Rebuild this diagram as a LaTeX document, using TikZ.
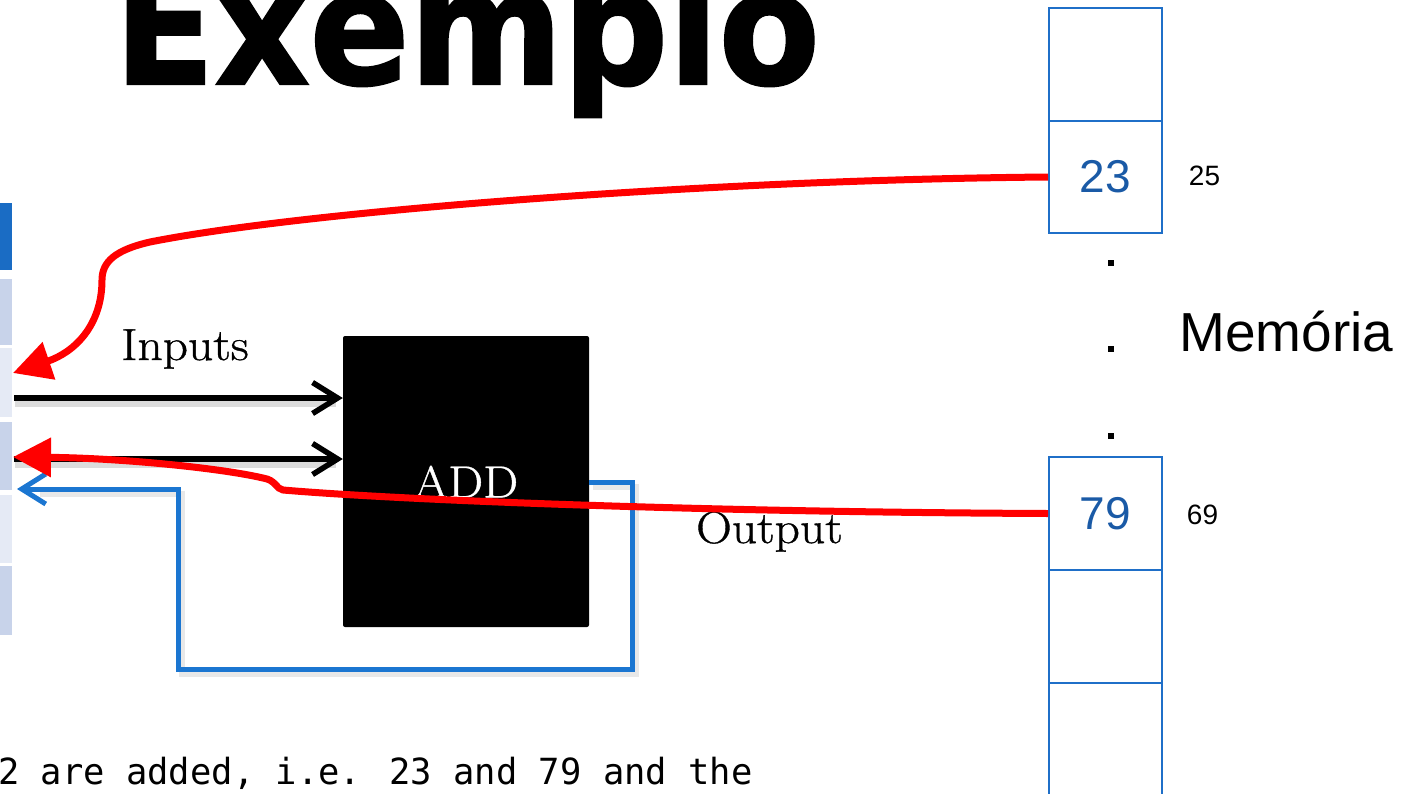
\documentclass[tikz,border=0pt]{standalone}
\usepackage{fontspec}
\usepackage{graphicx}
\newfontfamily\titlefont[FakeBold=1.5]{DejaVu Sans Bold}
\newfontfamily\helv{Liberation Sans}
\newfontfamily\monof{DejaVu Sans Mono}
\newfontfamily\palfont[FakeBold=0.8]{Latin Modern Roman}
\usetikzlibrary{arrows.meta}
\definecolor{regdark}{HTML}{1A6CC4}
\definecolor{regmid}{HTML}{C8D3EA}
\definecolor{reglight}{HTML}{E5EAF5}
\definecolor{memblue}{HTML}{1F6FC8}
\definecolor{numblue}{HTML}{1A5AA6}
\definecolor{fbblue}{HTML}{1B76D1}
\newcommand{\widetxt}[1]{\scalebox{1.1}[1]{#1}}
\tikzset{
  regcell/.style={inner sep=0pt, minimum width=32pt, draw=none},
  memcell/.style={draw=memblue, line width=2pt, minimum width=113pt, minimum height=112.5pt, inner sep=0pt,
                  text=numblue, font=\helv\fontsize{46}{46}\selectfont},
  addrlabel/.style={font=\helv\fontsize{28}{28}\selectfont, text=black, inner sep=0pt},
  dotmark/.style={fill=black, minimum size=6pt, inner sep=0pt},
  serif45/.style={font=\palfont\fontsize{45}{45}\selectfont, inner sep=0pt},
  inarrow/.style={line width=5.5pt, -{Straight Barb[length=25pt,width=31pt]}},
  shadowline/.style={line width=6pt, draw=black!45, opacity=0.3},
  fbline/.style={line width=5pt, draw=fbblue, -{Straight Barb[length=24pt,width=30pt]}},
  redarrow/.style={line width=7pt, draw=red, -{Triangle[length=38pt,width=38pt]}, fill=none},
}
\begin{document}
\begin{tikzpicture}[x=1pt,y=-1pt]
\useasboundingbox (0,0) rectangle (1417,793);
\clip (0,0) rectangle (1417,793);

% title
\node[anchor=base west, inner sep=0pt, font=\titlefont\fontsize{160}{160}\selectfont] (title) at (114,84) {\scalebox{0.92}[1]{Exemplo}};

% register cells at left edge
\node[regcell, fill=regdark, minimum height=67pt] (r1) at (-4,236.5) {};
\node[regcell, fill=regmid, minimum height=66pt] (r2) at (-4,312) {};
\node[regcell, fill=reglight, minimum height=69pt] (r3) at (-4,382.5) {};
\node[regcell, fill=regmid, minimum height=68pt] (r4) at (-4,456) {};
\node[regcell, fill=reglight, minimum height=68pt] (r5) at (-4,529) {};
\node[regcell, fill=regmid, minimum height=69pt] (r6) at (-4,600.5) {};

% ADD box
\node[fill=black, rounded corners=2pt, minimum width=246pt, minimum height=291pt, inner sep=0pt,
      text=white, font=\palfont\fontsize{45}{45}\selectfont] (add) at (466,481.5) {\widetxt{ADD}};

% labels
\node[serif45, anchor=base west] (inputs) at (121,360) {\widetxt{Inputs}};
\node[serif45, anchor=base west] (output) at (696,543) {\widetxt{Output}};

% input arrows with shadows
\coordinate (a1s) at (14,398);
\coordinate (a2s) at (14,459);
\draw[shadowline] (15,404) -- (336,404);
\draw[shadowline] (15,465) -- (336,465);
\draw[inarrow] (a1s) -- (a1s -| add.west);
\draw[inarrow] (a2s) -- (a2s -| add.west);

% feedback (output) path
\coordinate (fbs) at (add.east |- 0,482);
\coordinate (fbe) at (17,489);
\draw[shadowline, opacity=0.2] (593,487) -- (636,487) -- (636,674) -- (182,674) -- (182,494) -- (40,494);
\draw[fbline] (fbs) -- (632,482) -- (632,669) -- (178,669) -- (178,489) -- (fbe);

% memory column
\node[memcell] (m0) at (1105.5,64.5) {};
\node[memcell] (m23) at (1105.5,177) {23};
\node[memcell] (m79) at (1105.5,513.5) {79};
\node[memcell] (m5) at (1105.5,626.5) {};
\node[memcell] (m6) at (1105.5,739.5) {};
\node[addrlabel] (l25) at (1204.5,176) {25};
\node[addrlabel] (l69) at (1202.5,515) {69};
\node[dotmark] (d1) at (1111,263) {};
\node[dotmark] (d2) at (1111,349) {};
\node[dotmark] (d3) at (1111,436) {};
\node[anchor=base west, inner sep=0pt, font=\helv\fontsize{55}{55}\selectfont] (mem) at (1179,351) {Memória};

% red arrows
\coordinate (t1) at (13,373);
\coordinate (t2) at (13,457);
\draw[redarrow] (m23.west) .. controls (700,180) and (300,212) .. (150,242)
   .. controls (115,250) and (102,262) .. (102,280)
   .. controls (102,325) and (75,352) .. (t1);
\draw[redarrow] (m79.west) .. controls (700,512) and (400,500) .. (283,490)
   .. controls (276,489) and (276,480) .. (263,478)
   .. controls (220,468) and (120,458) .. (t2);

% bottom text
\node[anchor=base west, inner sep=0pt, font=\monof\fontsize{36}{36}\selectfont] (txt) at (-2,784) {\scalebox{0.985}[1]{2 are added, i.e. 23 and 79 and the}};
\end{tikzpicture}
\end{document}
